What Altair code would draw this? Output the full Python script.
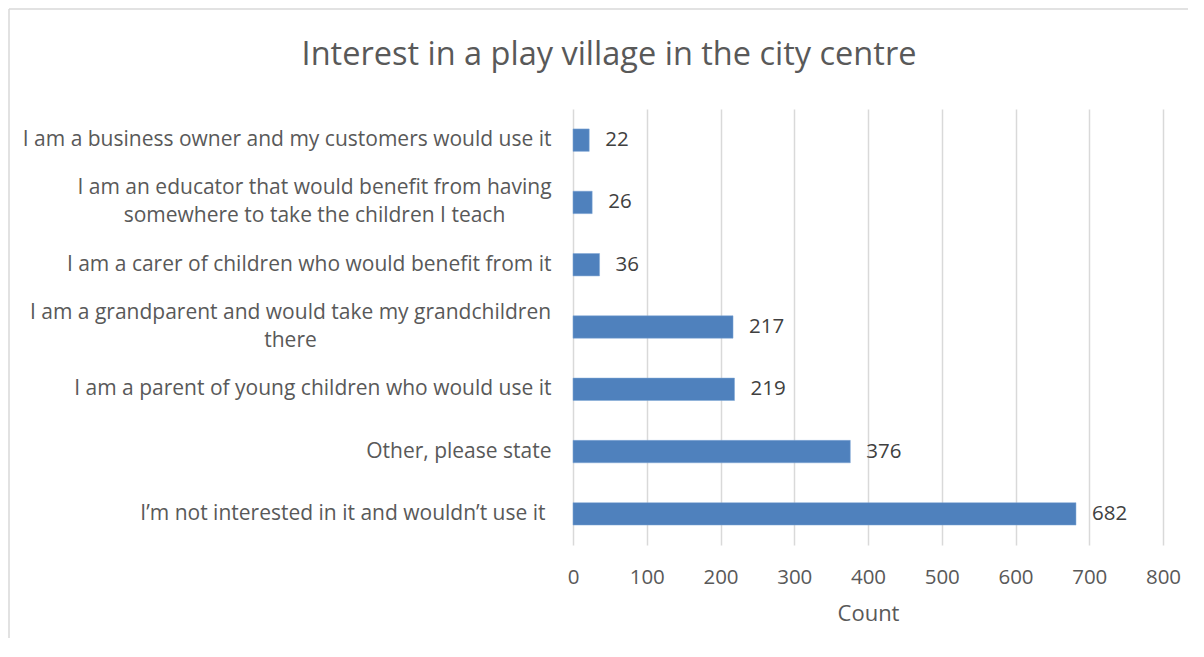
import altair as alt
import pandas as pd

categories = [
    "I am a business owner and my customers would use it",
    "I am an educator that would benefit from having somewhere to take the children I teach",
    "I am a carer of children who would benefit from it",
    "I am a grandparent and would take my grandchildren there",
    "I am a parent of young children who would use it",
    "Other, please state",
    "I\u2019m not interested in it and wouldn\u2019t use it",
]
label_lines = [
    "I am a business owner and my customers would use it",
    "I am an educator that would benefit from having\nsomewhere to take the children I teach",
    "I am a carer of children who would benefit from it",
    "I am a grandparent and would take my grandchildren\nthere",
    "I am a parent of young children who would use it",
    "Other, please state",
    "I\u2019m not interested in it and wouldn\u2019t use it",
]
counts = [22, 26, 36, 217, 219, 376, 682]
x_ticks = [0, 100, 200, 300, 400, 500, 600, 700, 800]
title_text = "Interest in a play village in the city centre"

df = pd.DataFrame({"category": categories, "label": label_lines, "count": counts})

FONT = "Open Sans"
PLOT_W = 590
PLOT_H = 436
PAD_L = 565
PAD_T = 101

MULTI = "indexof(datum.label, '\\n') >= 0"

base = alt.Chart(df)

bars = base.mark_bar(color="#4F81BD", stroke="#7FA6D6", strokeWidth=0.5).encode(
    y=alt.Y(
        "label:N",
        sort=label_lines,
        title=None,
        scale=alt.Scale(paddingInner=0.64, paddingOuter=0.32),
        axis=alt.Axis(
            labelExpr="split(datum.label, '\\n')",
            labelFont=FONT,
            labelFontSize=21,
            labelColor="#595959",
            labelLineHeight=28,
            labelLimit=600,
            labelAlign={"condition": {"test": MULTI, "value": "center"}, "value": "right"},
            labelPadding={
                "condition": [
                    {"test": "indexof(datum.label, 'educator') >= 0", "value": 259},
                    {"test": "indexof(datum.label, 'grandparent') >= 0", "value": 283},
                    {"test": "indexof(datum.label, 'interested') >= 0", "value": 28},
                ],
                "value": 22,
            },
            labelOffset={"condition": {"test": MULTI, "value": -14}, "value": 0},
            ticks=False,
            domain=False,
            grid=False,
        ),
    ),
    x=alt.X(
        "count:Q",
        title="Count",
        scale=alt.Scale(domain=[0, 800], nice=False),
        axis=alt.Axis(
            values=x_ticks,
            labelFont=FONT,
            labelFontSize=20.5,
            labelColor="#595959",
            labelPadding=22,
            labelFlush=False,
            titleFont=FONT,
            titleFontSize=22,
            titleFontWeight="normal",
            titleColor="#595959",
            titlePadding=16,
            ticks=False,
            domain=False,
            grid=True,
            gridColor="#D9D9D9",
            gridWidth=1.5,
        ),
    ),
)

texts = base.mark_text(
    align="left", baseline="middle", dx=16, font=FONT, fontSize=20.5, color="#404040"
).encode(
    y=alt.Y("label:N", sort=label_lines),
    x=alt.X("count:Q"),
    text=alt.Text("count:Q"),
)

frame_df = pd.DataFrame({"a": [0]})
left_edge = alt.Chart(frame_df).mark_rule(color="#D9D9D9", strokeWidth=1.5).encode(
    x=alt.value(-PAD_L + 1), y=alt.value(-PAD_T + 1), y2=alt.value(PLOT_H + 200)
)
top_edge = alt.Chart(frame_df).mark_rule(color="#D9D9D9", strokeWidth=1.5).encode(
    y=alt.value(-PAD_T + 1), x=alt.value(-PAD_L + 1), x2=alt.value(PLOT_W + 200)
)
title_mark = alt.Chart(frame_df).mark_text(
    align="center", baseline="middle", font=FONT, fontSize=32.5, color="#595959"
).encode(
    x=alt.value(609 - 8 - PAD_L),
    y=alt.value(55 - 8 - PAD_T),
    text=alt.value(title_text),
)

chart = (
    alt.layer(bars, texts, left_edge, top_edge, title_mark)
    .properties(
        width=PLOT_W,
        height=PLOT_H,
        background="white",
        autosize=alt.AutoSizeParams(type="none"),
        padding={"left": PAD_L, "top": PAD_T, "right": 1180 - PAD_L - PLOT_W, "bottom": 630 - PAD_T - PLOT_H},
    )
    .configure_view(stroke="transparent", strokeWidth=0)
)

chart.save("out.html", embed_options={"renderer": "svg", "actions": False})
